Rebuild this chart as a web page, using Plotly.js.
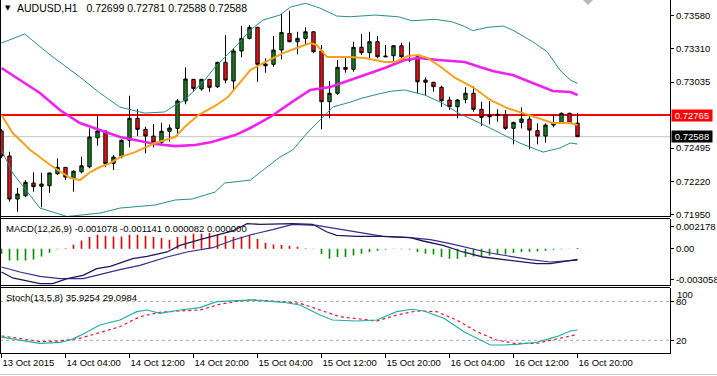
<!DOCTYPE html>
<html><head><meta charset="utf-8">
<script src="https://cdn.plot.ly/plotly-3.0.1.min.js"></script>
<style>html,body{margin:0;padding:0;background:#fff;overflow:hidden}#chart{width:717px;height:376px}</style>
</head><body><div id="chart"></div>
<script>
// ---- bar index (H1 bars, 13 Oct 20:00 .. 16 Oct 20:00) ----
const barIdx = [0,1,2,3,4,5,6,7,8,9,10,11,12,13,14,15,16,17,18,19,20,21,22,23,24,25,26,27,28,29,30,31,32,33,34,35,36,37,38,39,40,41,42,43,44,45,46,47,48,49,50,51,52,53,54,55,56,57,58,59,60,61,62,63,64,65,66,67,68,69,70,71,72];
const openP = [0.72634,0.72430,0.72078,0.72105,0.72209,0.72182,0.72187,0.72285,0.72337,0.72252,0.72301,0.72342,0.72579,0.72634,0.72370,0.72424,0.72558,0.72738,0.72648,0.72593,0.72542,0.72632,0.72656,0.72880,0.73057,0.72978,0.73057,0.72997,0.73196,0.73043,0.73289,0.73392,0.73482,0.73182,0.73180,0.73297,0.73433,0.73365,0.73392,0.73446,0.73289,0.72874,0.72943,0.73155,0.73139,0.73319,0.73275,0.73365,0.73248,0.73250,0.73332,0.73221,0.73242,0.73051,0.73033,0.72992,0.72888,0.72833,0.72893,0.72943,0.72812,0.72765,0.72771,0.72765,0.72656,0.72705,0.72732,0.72637,0.72593,0.72683,0.72702,0.72779,0.72699];
const highP = [0.72650,0.72465,0.72168,0.72233,0.72296,0.72293,0.72293,0.72411,0.72340,0.72313,0.72424,0.72656,0.72765,0.72637,0.72438,0.72566,0.72923,0.72814,0.72669,0.72691,0.72702,0.72689,0.72896,0.73155,0.73060,0.73060,0.73060,0.73199,0.73419,0.73311,0.73493,0.73501,0.73487,0.73229,0.73411,0.73591,0.73618,0.73446,0.73482,0.73449,0.73338,0.73043,0.73215,0.73248,0.73365,0.73428,0.73446,0.73411,0.73338,0.73335,0.73356,0.73360,0.73256,0.73073,0.73035,0.73005,0.72915,0.72896,0.72992,0.73002,0.72874,0.72880,0.72812,0.72806,0.72710,0.72828,0.72771,0.72697,0.72697,0.72771,0.72787,0.72784,0.72781];
const lowP = [0.72413,0.72056,0.71974,0.72092,0.72138,0.72010,0.72129,0.72274,0.72233,0.72138,0.72288,0.72329,0.72514,0.72342,0.72315,0.72411,0.72501,0.72593,0.72452,0.72501,0.72528,0.72547,0.72593,0.72853,0.72956,0.72964,0.72956,0.72986,0.73024,0.72970,0.73237,0.73384,0.73037,0.73111,0.73160,0.73221,0.73360,0.73262,0.73346,0.73270,0.72648,0.72738,0.72929,0.73111,0.73119,0.73256,0.73229,0.73229,0.73240,0.73188,0.73223,0.73201,0.72943,0.72923,0.72956,0.72833,0.72806,0.72738,0.72861,0.72792,0.72675,0.72689,0.72710,0.72642,0.72525,0.72656,0.72484,0.72525,0.72538,0.72664,0.72697,0.72691,0.72588];
const closeP = [0.72430,0.72078,0.72119,0.72215,0.72179,0.72201,0.72291,0.72337,0.72258,0.72305,0.72350,0.72585,0.72634,0.72367,0.72421,0.72558,0.72738,0.72648,0.72593,0.72542,0.72632,0.72659,0.72880,0.73060,0.72983,0.73057,0.72992,0.73196,0.73051,0.73289,0.73392,0.73482,0.73180,0.73168,0.73297,0.73441,0.73365,0.73392,0.73446,0.73283,0.72874,0.72943,0.73155,0.73139,0.73319,0.73275,0.73365,0.73242,0.73242,0.73332,0.73242,0.73215,0.73037,0.73033,0.72997,0.72882,0.72833,0.72888,0.72943,0.72812,0.72746,0.72751,0.72763,0.72656,0.72705,0.72732,0.72642,0.72593,0.72683,0.72702,0.72779,0.72697,0.72588];

// ---- overlays (sampled along bar index) ----
const bbUpX = [0,2.9,6.1,9.8,12.3,14.8,17.9,20.4,21.3,22.9,25.4,26.7,29.2,31.1,32.7,34.8,36.1,38,39.8,41.9,43.6,46.7,49.6,51.3,54.2,56.3,57.9,58.9,60.7,62.7,63.9,66.4,68.2,69.8,71.1,72];
const bbUpY = [0.73354,0.73428,0.73256,0.73076,0.72945,0.72830,0.72781,0.72790,0.72830,0.72888,0.73051,0.73158,0.73321,0.73460,0.73542,0.73583,0.73648,0.73679,0.73640,0.73575,0.73569,0.73583,0.73569,0.73536,0.73548,0.73528,0.73489,0.73455,0.73482,0.73493,0.73460,0.73365,0.73283,0.73133,0.73051,0.73024];
const bbLoX = [0,1.4,4.8,8.2,12.3,14.8,19.2,21.7,23.8,26.7,27.9,29.2,31.1,32.7,34.8,36.4,38.2,39.8,41.4,43.6,45.1,47.1,48.8,50.4,52.9,55.1,57.1,59.8,62.3,64.8,67.7,69.8,71.1,72];
const bbLoY = [0.72479,0.72291,0.72004,0.71935,0.71963,0.72004,0.72029,0.72070,0.72078,0.72135,0.72209,0.72217,0.72233,0.72315,0.72421,0.72479,0.72618,0.72724,0.72830,0.72871,0.72904,0.72937,0.72961,0.72970,0.72929,0.72863,0.72781,0.72700,0.72618,0.72536,0.72462,0.72495,0.72536,0.72528];
const slowMaX = [0,2.3,4.8,7.3,9.8,12.3,14.8,16.7,19.2,21.7,24.2,26.3,27.9,29.2,31.1,33.6,36.1,38.6,41.1,43.6,45.4,47.9,50.4,52.1,54.6,57.9,59.8,61.4,63.9,66.4,68.9,71.1,72];
const slowMaY = [0.73150,0.73051,0.72945,0.72806,0.72700,0.72642,0.72585,0.72560,0.72528,0.72511,0.72520,0.72544,0.72577,0.72601,0.72659,0.72749,0.72863,0.72970,0.72994,0.73051,0.73092,0.73150,0.73215,0.73231,0.73215,0.73199,0.73158,0.73125,0.73092,0.73027,0.72961,0.72953,0.72929];
const fastMaX = [0,1.4,3.6,6.1,8.6,9.8,11.1,12.3,13.6,14.8,16.7,19.2,21.7,22.9,24.6,26.7,28.3,29.8,31.1,32.7,35.2,36.9,38.6,39.4,40.7,43.6,45.4,47.9,49.2,50.8,52.1,53.3,55.1,56.7,58.9,61.1,63.2,65.2,67.3,68.9,71.1,72];
const fastMaY = [0.72765,0.72618,0.72479,0.72356,0.72250,0.72233,0.72299,0.72340,0.72372,0.72421,0.72462,0.72536,0.72585,0.72667,0.72765,0.72839,0.72912,0.73035,0.73133,0.73190,0.73272,0.73313,0.73354,0.73338,0.73239,0.73239,0.73231,0.73199,0.73199,0.73248,0.73256,0.73231,0.73150,0.73068,0.72994,0.72888,0.72822,0.72781,0.72732,0.72700,0.72700,0.72683];
const resistLevel = 0.72765;
const lastPrice = 0.72588;

// ---- MACD(12,26,9) ----
const macdHist = [-0.00050,-0.00117,-0.00117,-0.00117,-0.00107,-0.00077,-0.00040,-0.00005,0.00005,0.00040,0.00083,0.00117,0.00140,0.00130,0.00123,0.00123,0.00140,0.00140,0.00130,0.00117,0.00107,0.00090,0.00117,0.00130,0.00150,0.00150,0.00157,0.00140,0.00130,0.00117,0.00123,0.00140,0.00097,0.00057,0.00043,0.00037,0.00030,0.00020,0.00005,0.00003,-0.00053,-0.00100,-0.00083,-0.00083,-0.00067,-0.00050,-0.00033,-0.00020,-0.00008,0.00002,-0.00005,-0.00008,-0.00033,-0.00050,-0.00057,-0.00083,-0.00100,-0.00100,-0.00083,-0.00077,-0.00077,-0.00067,-0.00057,-0.00057,-0.00043,-0.00033,-0.00030,-0.00027,-0.00020,-0.00010,-0.00005,-0.00003,0.00008];
const macdX = [0,1.4,4.8,6.4,8.2,10.2,11.9,13.6,16.4,18.2,20.7,22.3,24.8,26.4,28.9,30.7,32.3,36.4,38.9,40.7,41.9,44.4,47.7,51.1,52.7,55.2,57.7,60.2,62.7,65.2,66.9,68.6,70.2,72];
const macdY = [-0.00233,-0.00293,-0.00350,-0.00350,-0.00300,-0.00266,-0.00200,-0.00176,-0.00100,-0.00076,-0.00033,0.00034,0.00090,0.00124,0.00177,0.00250,0.00244,0.00250,0.00244,0.00167,0.00134,0.00124,0.00124,0.00110,0.00077,0.00034,-0.00033,-0.00083,-0.00110,-0.00133,-0.00150,-0.00150,-0.00128,-0.001078];
const sigX = [0,2.3,4.8,7.3,10.2,12.3,14.8,17.3,20.7,23.2,26.4,28.9,31.4,33.9,36.4,39.4,44.4,47.7,51.1,53.6,56.1,58.6,61.1,63.6,66.1,68.6,72];
const sigY = [-0.00183,-0.00233,-0.00276,-0.00300,-0.00300,-0.00256,-0.00210,-0.00166,-0.00083,-0.00033,0.00010,0.00084,0.00144,0.00190,0.00244,0.00234,0.00167,0.00124,0.00110,0.00090,0.00050,0.00000,-0.00043,-0.00076,-0.00110,-0.00133,-0.001141];

// ---- Stoch(13,5,8) ----
const stMainX = [0,2.3,4.8,7.3,8.6,9.8,12.3,14.8,16.9,18.2,19.8,22.3,24.8,26.9,28.9,31.4,35.2,37.3,39.8,41.4,44.4,46.9,49.4,51.3,52.8,55.3,57.8,59.4,61.1,62.8,64.4,66.9,69.4,71.1,72];
const stMainY = [25.0,20.5,15.4,17.0,20.5,27.2,43.7,51.4,64.2,66.8,61.7,66.8,70.4,79.6,80.7,82.3,78.7,74.5,59.1,51.4,49.8,51.4,64.2,67.9,65.3,54.0,33.3,23.1,12.8,12.8,13.9,17.0,25.6,34.4,35.9254];
const stSigX = [0,2.3,4.8,7.3,9.8,12.3,14.8,17.3,19.8,22.3,24.8,27.3,29.8,31.4,33.9,37.3,39.8,42.3,44.8,46.9,49.4,51.9,54.4,56.9,59.4,61.9,64.1,66.9,69.4,71.6,72];
const stSigY = [26.7,23.1,17.9,19.0,23.1,32.4,41.0,56.5,63.3,65.3,66.8,75.6,80.7,82.3,80.7,77.2,66.8,56.5,52.9,49.8,59.1,65.3,64.2,51.4,33.3,20.5,15.4,15.4,22.1,27.2,29.0984];

// ---- axis labels ----
const timeTickIdx = [0,8,16,24,32,40,48,56,64,72];
const timeTickText = ["13 Oct 2015","14 Oct 04:00","14 Oct 12:00","14 Oct 20:00","15 Oct 04:00","15 Oct 12:00","15 Oct 20:00","16 Oct 04:00","16 Oct 12:00","16 Oct 20:00"];
const priceTicks = [0.73580,0.73310,0.73035,0.72495,0.72220,0.71950];
const priceTickText = ["0.73580","0.73310","0.73035","0.72495","0.72220","0.71950"];
const macdTicks = [0.002178,0,-0.003058];
const macdTickText = ["0.002178","0.00","-0.003058"];
const stochLevels = [80,20];

// ---- layout helpers (pixel -> paper) ----
const W = 717, H = 376;
const PX = v => v / W, PY = v => 1 - v / H;
const FONT = "Liberation Sans, Arial, sans-serif";
const FS = 9.5;
const plotRight = 670;

// histogram drawn as thin vertical stems from zero, split by sign for colour
function stems(sign) {
  const xs = [], ys = [];
  barIdx.forEach((i, k) => {
    const v = macdHist[k];
    if ((sign > 0 && v >= 0) || (sign < 0 && v < 0)) { xs.push(i, i, null); ys.push(0, v, null); }
  });
  return {xs, ys};
}
const histUp = stems(1), histDn = stems(-1);

const traces = [
  {type:'scatter', mode:'lines', x:bbUpX, y:bbUpY, xaxis:'x', yaxis:'y', line:{color:'#2b8a8a', width:1}},
  {type:'scatter', mode:'lines', x:bbLoX, y:bbLoY, xaxis:'x', yaxis:'y', line:{color:'#2b8a8a', width:1}},
  {type:'scatter', mode:'lines', x:slowMaX, y:slowMaY, xaxis:'x', yaxis:'y', line:{color:'#ee22ee', width:2.6}},
  {type:'scatter', mode:'lines', x:fastMaX, y:fastMaY, xaxis:'x', yaxis:'y', line:{color:'#f4a21e', width:2}},
  {type:'candlestick', x:barIdx, open:openP, high:highP, low:lowP, close:closeP, xaxis:'x', yaxis:'y',
   whiskerwidth:0,
   increasing:{fillcolor:'#1f7d1f', line:{color:'#000000', width:1}},
   decreasing:{fillcolor:'#e8141c', line:{color:'#000000', width:1}}},
  {type:'scatter', mode:'lines', x:histUp.xs, y:histUp.ys, xaxis:'x', yaxis:'y2', connectgaps:false,
   line:{color:'#e00000', width:1.6}},
  {type:'scatter', mode:'lines', x:histDn.xs, y:histDn.ys, xaxis:'x', yaxis:'y2', connectgaps:false,
   line:{color:'#009000', width:1.6}},
  {type:'scatter', mode:'lines', x:sigX, y:sigY, xaxis:'x', yaxis:'y2', line:{color:'#3d2a8e', width:1.2}},
  {type:'scatter', mode:'lines', x:macdX, y:macdY, xaxis:'x', yaxis:'y2', line:{color:'#22145e', width:1.3}},
  {type:'scatter', mode:'lines', x:stSigX, y:stSigY, xaxis:'x', yaxis:'y3', line:{color:'#e0182a', width:1.2, dash:'3px,3px'}},
  {type:'scatter', mode:'lines', x:stMainX, y:stMainY, xaxis:'x', yaxis:'y3', line:{color:'#20aea6', width:1.2}}
];

const axisCommon = {showgrid:false, zeroline:false, showline:true, linecolor:'#000', linewidth:1,
  ticks:'outside', ticklen:3, tickcolor:'#000', tickfont:{family:FONT, size:FS, color:'#000'}, fixedrange:true};

const shapes = [
  // price levels
  {type:'line', xref:'paper', yref:'y', x0:0, x1:PX(plotRight), y0:lastPrice, y1:lastPrice, line:{color:'#c4c4c4', width:1}, layer:'below'},
  {type:'line', xref:'paper', yref:'y', x0:0, x1:PX(plotRight), y0:resistLevel, y1:resistLevel, line:{color:'#ff0000', width:2}, layer:'below'},
  // stochastic levels
  ...stochLevels.map(v => ({type:'line', xref:'paper', yref:'y3', x0:0, x1:PX(plotRight), y0:v, y1:v, line:{color:'#a8a8a8', width:1, dash:'3px,3px'}, layer:'below'})),
  // panel separators
  {type:'line', xref:'paper', yref:'paper', x0:0, x1:PX(plotRight), y0:PY(216.5), y1:PY(216.5), line:{color:'#000', width:1}},
  {type:'line', xref:'paper', yref:'paper', x0:0, x1:PX(plotRight), y0:PY(218.5), y1:PY(218.5), line:{color:'#000', width:1}},
  {type:'line', xref:'paper', yref:'paper', x0:0, x1:PX(plotRight), y0:PY(285.5), y1:PY(285.5), line:{color:'#000', width:1}},
  {type:'line', xref:'paper', yref:'paper', x0:0, x1:PX(plotRight), y0:PY(287.5), y1:PY(287.5), line:{color:'#000', width:1}},
  // left frame
  {type:'line', xref:'paper', yref:'paper', x0:PX(0.5), x1:PX(0.5), y0:PY(0), y1:PY(353.3), line:{color:'#000', width:1}},
  // bottom window frame
  {type:'line', xref:'paper', yref:'paper', x0:0, x1:1, y0:PY(374.5), y1:PY(374.5), line:{color:'#c8c8c8', width:1}},
  // chart-shift marker
  {type:'path', xref:'paper', yref:'paper', path:`M ${PX(583)} ${PY(0)} L ${PX(593)} ${PY(0)} L ${PX(588)} ${PY(5)} Z`, fillcolor:'#b8b8b8', line:{width:0}}
];

const ann = (x, y, text, extra) => Object.assign({xref:'paper', yref:'paper', x:PX(x), y:PY(y), text,
  showarrow:false, xanchor:'left', yanchor:'middle', font:{family:FONT, size:FS, color:'#000'}}, extra||{});

const annotations = [
  ann(3, 7.5, '▼', {font:{family:'DejaVu Sans', size:7, color:'#000'}}),
  ann(15, 8, 'AUDUSD,H1\u00a0\u00a0 0.72699 0.72781 0.72588 0.72588', {font:{family:FONT, size:10.5, color:'#000'}}),
  ann(4, 228.5, 'MACD(12,26,9) -0.001078 -0.001141 0.000082 0.000000'),
  ann(4, 297.5, 'Stoch(13,5,8) 35.9254 29.0984'),
  {xref:'paper', yref:'y', x:PX(671), y:resistLevel, text:'0.72765', showarrow:false, xanchor:'left', yanchor:'middle',
   bgcolor:'#ff0000', width:40, height:11, borderpad:0, font:{family:FONT, size:FS, color:'#ffffff'}},
  {xref:'paper', yref:'y', x:PX(671), y:lastPrice, text:'0.72588', showarrow:false, xanchor:'left', yanchor:'middle',
   bgcolor:'#000000', width:40, height:11, borderpad:0, font:{family:FONT, size:FS, color:'#ffffff'}},
  {xref:'paper', yref:'paper', x:PX(675), y:PY(294), text:'100', showarrow:false, xanchor:'left', yanchor:'middle',
   font:{family:FONT, size:FS, color:'#000'}}
];

const layout = {
  width:W, height:H, margin:{l:0, r:0, t:0, b:0, pad:0},
  paper_bgcolor:'#ffffff', plot_bgcolor:'#ffffff', showlegend:false, hovermode:false,
  boxgap:0.4,
  font:{family:FONT, size:FS, color:'#000'},
  xaxis: Object.assign({}, axisCommon, {domain:[0, PX(plotRight)], range:[-0.1875, 83.5625], anchor:'y3',
    tickvals:timeTickIdx, ticktext:timeTickText, ticklen:4, ticklabelposition:'outside right',
    rangeslider:{visible:false}}),
  yaxis: Object.assign({}, axisCommon, {domain:[PY(217), 1], range:[0.71931, 0.73706], anchor:'x', side:'right',
    tickvals:priceTicks, ticktext:priceTickText}),
  yaxis2: Object.assign({}, axisCommon, {domain:[PY(285.5), PY(219)], range:[-0.00368, 0.00297], anchor:'x', side:'right',
    tickvals:macdTicks, ticktext:macdTickText}),
  yaxis3: Object.assign({}, axisCommon, {domain:[PY(353.3), PY(287.5)], range:[0, 101.5], anchor:'x', side:'right',
    tickvals:stochLevels, ticktext:stochLevels.map(String)}),
  shapes, annotations
};

Plotly.newPlot('chart', traces, layout, {staticPlot:true, displayModeBar:false});
</script></body></html>
